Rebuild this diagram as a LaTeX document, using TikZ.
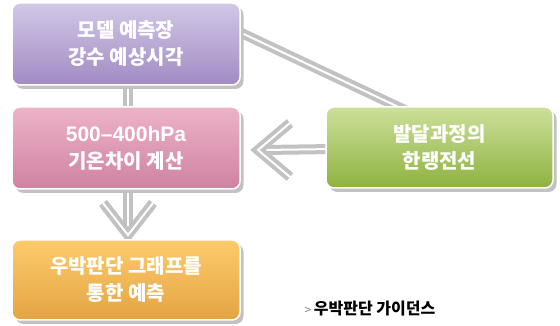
\documentclass[tikz,border=0pt]{standalone}
\usepackage{fontspec}
\newfontfamily\kr{Noto Sans CJK KR}
\newfontfamily\lat{Liberation Sans}
\usetikzlibrary{shadows,backgrounds}
\definecolor{conn}{HTML}{C2C2C2}
\definecolor{pL}{HTML}{D2C8E6}\definecolor{pD}{HTML}{A18BC3}
\definecolor{kL}{HTML}{EDB3C8}\definecolor{kD}{HTML}{CF82A1}
\definecolor{oL}{HTML}{FCCB6C}\definecolor{oD}{HTML}{E4A443}
\definecolor{gL}{HTML}{CCE09A}\definecolor{gD}{HTML}{8EB240}
\tikzset{
  box/.style={draw=white, line width=1.5pt, rounded corners=8pt,
    minimum width=228pt, minimum height=82pt, align=center, text=white,
    font=\kr\bfseries\fontsize{20}{27}\selectfont, shading angle=55,
    drop shadow={shadow xshift=3.5pt, shadow yshift=-4pt, fill=black!24, opacity=1}},
  dline/.style={draw=conn, line width=4pt, double=white, double distance=2pt, line join=miter},
}
\begin{document}
\begin{tikzpicture}[x=1pt,y=1pt]
\useasboundingbox (0,0) rectangle (560,326);
\node[box, top color=pL, bottom color=pD] (b1) at (126,282) {모델 예측장\\강수 예상시각};
\node[box, top color=kL, bottom color=kD] (b2) at (126,178) {{\lat\bfseries\fontsize{21}{27}\selectfont 500–400hPa}\\기온차이 계산};
\node[box, top color=oL, bottom color=oD, minimum height=80pt] (b3) at (126,46) {우박판단 그래프를\\통한 예측};
\node[box, top color=gL, bottom color=gD, minimum width=227pt, minimum height=81pt] (b4) at (439.5,178.5) {발달과정의\\한랭전선};
\coordinate (t1) at (128,91);
\coordinate (t2) at (258,176);
\begin{scope}[on background layer]
  \draw[dline] ([xshift=2pt]b1.center) -- ([xshift=2pt]b2.center);
  \draw[dline] ([shift={(-10,16.1)}]b1.east) -- ([shift={(-29.5,-6.2)}]b4.north);
  \draw[dline] ([xshift=2pt]b2.center) -- ([yshift=6pt]t1);
  \draw[dline] ([shift={(-25,32)}]t1) -- (t1) -- ([shift={(25,32)}]t1);
  \draw[dline] (b4.center) -- ([xshift=6pt]t2);
  \draw[dline] ([shift={(32,27)}]t2) -- (t2) -- ([shift={(32,-27)}]t2);
\end{scope}
\node[anchor=west, font=\kr\bfseries\fontsize{16}{18}\selectfont] (cap) at (301,17) {{\color{gray}\mdseries\fontsize{12}{12}\selectfont >}\,우박판단 가이던스};
\end{tikzpicture}
\end{document}
